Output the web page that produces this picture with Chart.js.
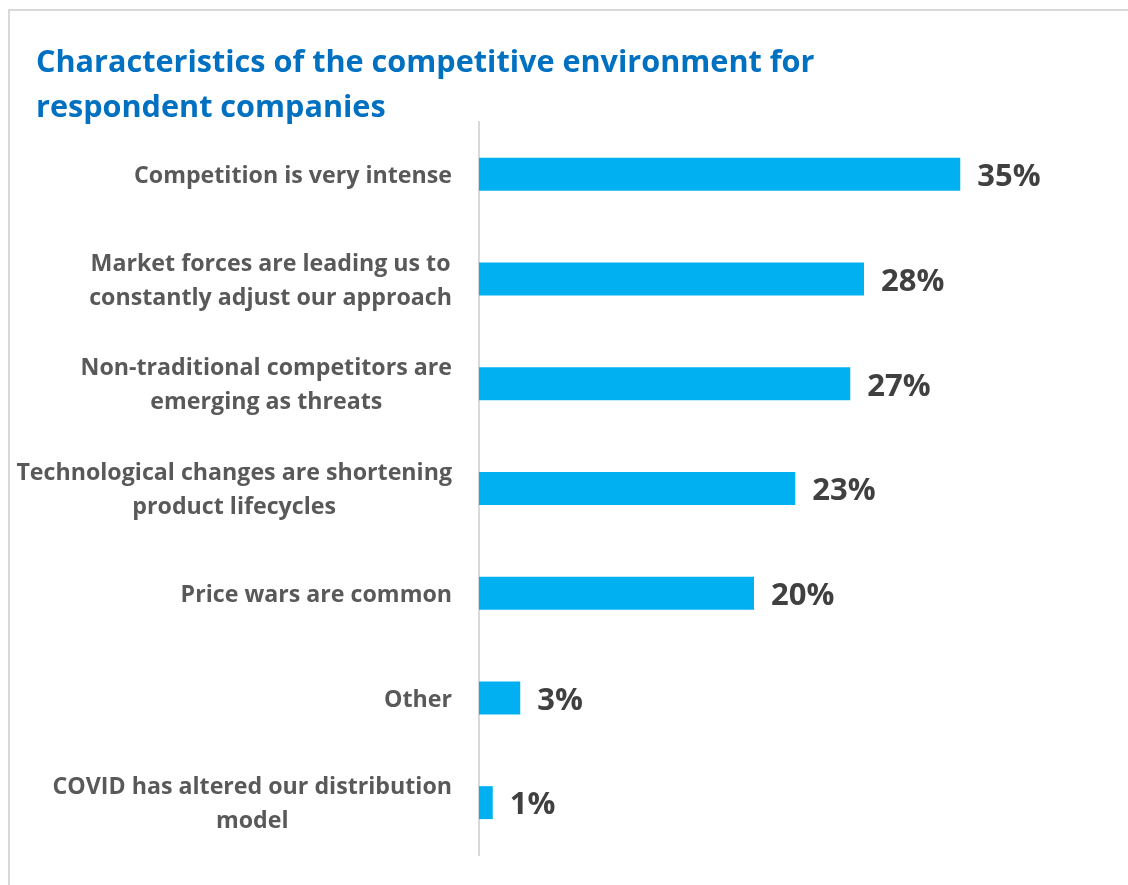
<!DOCTYPE html>
<html>
<head>
<meta charset="utf-8">
<script src="https://cdn.jsdelivr.net/npm/chart.js@4.4.1/dist/chart.umd.min.js"></script>
<style>
  html, body { margin: 0; padding: 0; background: #ffffff; }
  #wrap { position: relative; width: 1128px; height: 885px; overflow: hidden; }
  #frame { position: absolute; left: 8px; top: 9px; width: 1300px; height: 1000px;
           border-left: 2px solid #d9d9d9; border-top: 2px solid #d9d9d9; }
  #chart { position: absolute; left: 0; top: 0; }
</style>
</head>
<body>
<div id="wrap">
  <div id="frame"></div>
  <canvas id="chart" width="1128" height="885"></canvas>
</div>
<script>
// Chart text
const titleLines = [
  'Characteristics of the competitive environment for',
  'respondent companies'
];

// Categories (each entry is the lines of one wrapped label)
const categories = [
  ['Competition is very intense'],
  ['Market forces are leading us to', 'constantly adjust our approach'],
  ['Non-traditional competitors are', 'emerging as threats'],
  ['Technological changes are shortening', 'product lifecycles'],
  ['Price wars are common'],
  ['Other'],
  ['COVID has altered our distribution', 'model']
];

// Share of respondents, in percent
const shares = [35, 28, 27, 23, 20, 3, 1];

const FONT = '"Open Sans", Lato, sans-serif';

// Title, category labels and value labels drawn on the canvas
const textPlugin = {
  id: 'chartText',
  afterDraw(chart) {
    const ctx = chart.ctx;
    const xs = chart.scales.x;
    const ys = chart.scales.y;
    ctx.save();

    // Title
    ctx.fillStyle = '#0070C0';
    ctx.font = 'bold 30.6px ' + FONT;
    ctx.textAlign = 'left';
    ctx.textBaseline = 'alphabetic';
    ctx.fillText(titleLines[0], 36, 72);
    ctx.fillText(titleLines[1], 36, 117);

    // Category labels: block right-aligned to the axis, lines centred within it
    ctx.font = 'bold 23.2px ' + FONT;
    ctx.fillStyle = '#595959';
    ctx.textAlign = 'center';
    ctx.textBaseline = 'middle';
    const rightEdge = chart.chartArea.left - 27;
    const lineH = 34;
    categories.forEach((lines, i) => {
      const yc = ys.getPixelForValue(i) + 2;
      const w = Math.max(...lines.map(l => ctx.measureText(l).width));
      const cx = rightEdge - w / 2;
      const y0 = yc - (lines.length - 1) * lineH / 2;
      lines.forEach((l, k) => ctx.fillText(l, cx, y0 + k * lineH));
    });

    // Value labels at the bar ends
    ctx.font = 'bold 31px ' + FONT;
    ctx.fillStyle = '#404040';
    ctx.textAlign = 'left';
    shares.forEach((v, i) => {
      const x = xs.getPixelForValue(v) + 17;
      const y = ys.getPixelForValue(i) + 3;
      ctx.fillText(v + '%', x, y);
    });
    ctx.restore();
  }
};

new Chart(document.getElementById('chart'), {
  type: 'bar',
  data: {
    labels: categories.map(c => c.join(' ')),
    datasets: [{
      data: shares,
      backgroundColor: '#00B0F0',
      borderWidth: 0,
      categoryPercentage: 1,
      barPercentage: 0.315
    }]
  },
  options: {
    indexAxis: 'y',
    responsive: false,
    animation: false,
    layout: { padding: { top: 122, left: 479, right: 99, bottom: 30 } },
    plugins: {
      legend: { display: false },
      title: { display: false },
      tooltip: { enabled: false }
    },
    scales: {
      x: {
        display: false,
        min: 0,
        max: 40
      },
      y: {
        ticks: { display: false },
        grid: { display: false, drawTicks: false },
        border: { display: true, color: '#d9d9d9', width: 2 }
      }
    }
  },
  plugins: [textPlugin]
});
</script>
</body>
</html>
